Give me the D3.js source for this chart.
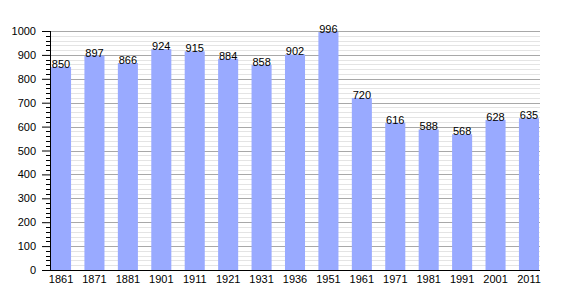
<!DOCTYPE html>
<html>
<head>
<meta charset="utf-8">
<script src="https://cdn.jsdelivr.net/npm/d3@7"></script>
<style>
  body { margin: 0; background: #fff; }
  text { font-family: "Liberation Sans", Arial, sans-serif; }
</style>
</head>
<body>
<div class="chart"></div>
<script>
var years = ["1861", "1871", "1881", "1901", "1911", "1921", "1931", "1936", "1951", "1961", "1971", "1981", "1991", "2001", "2011"];
var population = [850, 897, 866, 924, 915, 884, 858, 902, 996, 720, 616, 588, 568, 628, 635];
var yTicks = [0, 100, 200, 300, 400, 500, 600, 700, 800, 900, 1000];

var svgWidth = 570;
var svgHeight = 300;
var margin = { top: 31, right: 30, bottom: 30, left: 50 };
var width = svgWidth - margin.left - margin.right;
var height = svgHeight - margin.top - margin.bottom;

var data = years.map(function(y, i) { return { year: y, value: population[i] }; });

var svg = d3.select(".chart")
  .append("svg")
  .attr("width", svgWidth)
  .attr("height", svgHeight);

var chartGroup = svg.append("g")
  .attr("transform", `translate(${margin.left}, ${margin.top})`);

var x = d3.scaleBand()
  .domain(years)
  .range([0, width])
  .paddingInner(0.4)
  .paddingOuter(0.03);

var y = d3.scaleLinear()
  .domain([0, 1000])
  .range([height, 0]);

// minor grid lines every 20
chartGroup.append("g")
  .selectAll("line")
  .data(d3.range(20, 1000, 20).filter(d => d % 100 !== 0))
  .enter()
  .append("line")
  .attr("x1", 0)
  .attr("x2", width)
  .attr("y1", d => Math.round(y(d)) + 0.5)
  .attr("y2", d => Math.round(y(d)) + 0.5)
  .attr("stroke", "#e4e4e4")
  .attr("stroke-width", 1);

// major grid lines
chartGroup.append("g")
  .selectAll("line")
  .data(yTicks.slice(1))
  .enter()
  .append("line")
  .attr("x1", 0)
  .attr("x2", width)
  .attr("y1", d => Math.round(y(d)) + 0.5)
  .attr("y2", d => Math.round(y(d)) + 0.5)
  .attr("stroke", "#a8a8a8")
  .attr("stroke-width", 1);

// bars
chartGroup.selectAll("rect")
  .data(data)
  .enter()
  .append("rect")
  .attr("x", d => x(d.year))
  .attr("y", d => y(d.value))
  .attr("width", x.bandwidth())
  .attr("height", d => height - y(d.value))
  .attr("fill", "#99aaff");

// value labels
chartGroup.selectAll(".val")
  .data(data)
  .enter()
  .append("text")
  .attr("class", "val")
  .attr("x", d => x(d.year) + x.bandwidth() / 2)
  .attr("y", d => y(d.value) + 1)
  .attr("text-anchor", "middle")
  .attr("font-size", "11px")
  .attr("fill", "#000")
  .text(d => d.value);

// y axis minor ticks
chartGroup.append("g")
  .selectAll("line")
  .data(d3.range(0, 1001, 20).filter(d => d % 100 !== 0))
  .enter()
  .append("line")
  .attr("x1", -4)
  .attr("x2", 0)
  .attr("y1", d => Math.round(y(d)) + 0.5)
  .attr("y2", d => Math.round(y(d)) + 0.5)
  .attr("stroke", "#000");

// y axis
var leftAxis = d3.axisLeft(y)
  .tickValues(yTicks)
  .tickFormat(d3.format("d"))
  .tickSize(8)
  .tickPadding(6);

var yAxis = chartGroup.append("g").call(leftAxis);
yAxis.select(".domain").attr("d", `M0.5,0V${height}`).attr("stroke", "#000");
yAxis.selectAll("text").attr("font-size", "11px").attr("font-family", "Liberation Sans, Arial, sans-serif").attr("fill", "#000");

// x axis
var bottomAxis = d3.axisBottom(x)
  .tickSize(0)
  .tickPadding(5);

var xAxis = chartGroup.append("g")
  .attr("transform", `translate(0, ${height})`)
  .call(bottomAxis);
xAxis.select(".domain").attr("d", `M0,0.5H${width}`).attr("stroke", "#000");
xAxis.selectAll("text").attr("font-size", "11px").attr("font-family", "Liberation Sans, Arial, sans-serif").attr("fill", "#000");
</script>
</body>
</html>
